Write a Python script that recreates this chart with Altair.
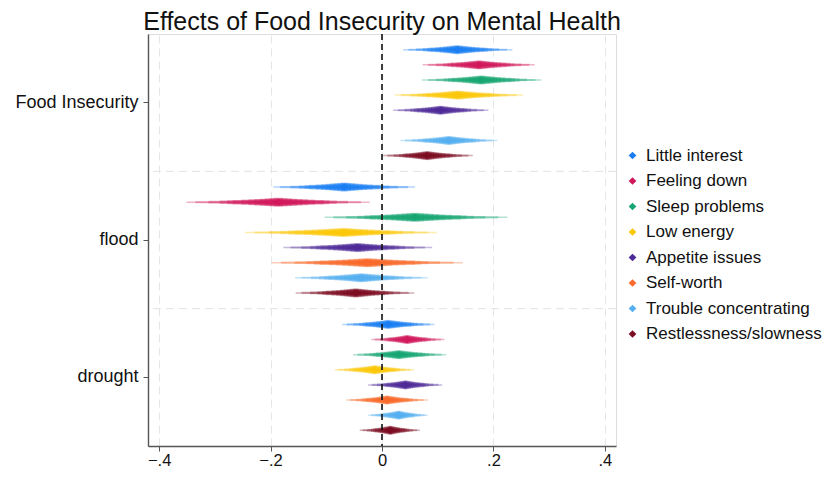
import altair as alt
import pandas as pd
from statistics import NormalDist

groups = ["Food Insecurity", "flood", "drought"]
series = ["Little interest", "Feeling down", "Sleep problems", "Low energy",
          "Appetite issues", "Self-worth", "Trouble concentrating", "Restlessness/slowness"]
colors = ["#1a7ef2", "#d1185a", "#17a673", "#fbc70a",
          "#4e2a98", "#fa6a2c", "#55aff0", "#7b0c22"]

# point estimates and outer (99%) interval bounds
fi_est = [0.135, 0.174, 0.178, 0.136, 0.105, None, 0.120, 0.081]
fi_lo = [0.038, 0.073, 0.072, 0.023, 0.020, None, 0.033, 0.002]
fi_hi = [0.234, 0.274, 0.286, 0.253, 0.191, None, 0.207, 0.163]

fl_est = [-0.068, -0.186, 0.059, -0.069, -0.044, -0.026, -0.037, -0.047]
fl_lo = [-0.195, -0.351, -0.103, -0.246, -0.177, -0.198, -0.156, -0.155]
fl_hi = [0.059, -0.022, 0.225, 0.098, 0.090, 0.145, 0.082, 0.058]

dr_est = [0.011, 0.045, 0.030, -0.013, 0.042, 0.009, 0.030, 0.015]
dr_lo = [-0.071, -0.019, -0.052, -0.085, -0.025, -0.064, -0.025, -0.040]
dr_hi = [0.094, 0.112, 0.115, 0.058, 0.108, 0.082, 0.082, 0.068]

x_ticks = [-0.4, -0.2, 0, 0.2, 0.4]
levels = [0.99, 0.98, 0.95, 0.9, 0.85, 0.8, 0.7, 0.6, 0.5, 0.4, 0.3, 0.2, 0.1]

table = {"Food Insecurity": (fi_est, fi_lo, fi_hi),
         "flood": (fl_est, fl_lo, fl_hi),
         "drought": (dr_est, dr_lo, dr_hi)}

nd = NormalDist()
z_out = nd.inv_cdf(0.5 + levels[0] / 2)
pts, rows = [], []
for g, (est, lo, hi) in table.items():
    for s, e, l, h in zip(series, est, lo, hi):
        if e is None:
            continue
        pts.append(dict(group=g, series=s, est=e))
for i, p in enumerate(levels):
    f = nd.inv_cdf(0.5 + p / 2) / z_out
    w = 1.5 + 7.5 * i / (len(levels) - 1)
    for g, (est, lo, hi) in table.items():
        for s, c, e, l, h in zip(series, colors, est, lo, hi):
            if e is None:
                continue
            rows.append(dict(group=g, ser=s, col=c, lo=e - (e - l) * f,
                             hi=e + (h - e) * f, w=w, op=0.33))
pts_df = pd.DataFrame(pts)
rows_df = pd.DataFrame(rows)
grid_df = pd.DataFrame({"group": groups[1:]})

FONT = "Liberation Sans"
y_scale = alt.Scale(type="band", domain=groups, paddingInner=0, paddingOuter=0)
y_axis = alt.Axis(title=None, labelFontSize=18, labelFont=FONT, labelColor="#111",
                  tickSize=5, tickColor="#555", domainColor="#555", domainWidth=1.4,
                  labelPadding=5, grid=False)
x_scale = alt.Scale(domain=[-0.42, 0.42], nice=False, zero=False)
x_axis = alt.Axis(title=None, values=x_ticks, labelFontSize=16.5, labelFont=FONT,
                  labelColor="#111",
                  labelExpr="datum.value == 0 ? '0' : replace(format(datum.value, '.1f'), '0.', '.')",
                  tickSize=5, tickColor="#555", domainColor="#555", domainWidth=1.4,
                  labelPadding=1, grid=True, gridDash=[8, 5], gridColor="#e6e6e6")
yoff = alt.YOffset("series:N", scale=alt.Scale(domain=series, paddingInner=0, paddingOuter=0.54))
yoff2 = alt.YOffset("ser:N", scale=alt.Scale(domain=series, paddingInner=0, paddingOuter=0.54))

hgrid = alt.Chart(grid_df).mark_rule(color="#e3e3e3", strokeDash=[8, 5], strokeWidth=1).encode(
    y=alt.Y("group:N", bandPosition=0, scale=y_scale, axis=y_axis)
)

spindles = alt.Chart(rows_df).mark_rule().encode(
    x=alt.X("lo:Q", scale=x_scale, axis=x_axis),
    x2="hi:Q",
    y=alt.Y("group:N", scale=y_scale, axis=y_axis),
    yOffset=yoff2,
    stroke=alt.Stroke("col:N", scale=None),
    strokeWidth=alt.StrokeWidth("w:Q", scale=None),
    opacity=alt.Opacity("op:Q", scale=None),
)

zero = alt.Chart(pd.DataFrame({"v": [0]})).mark_rule(
    color="#111", strokeDash=[6, 4], strokeWidth=1.6
).encode(x=alt.X("v:Q", scale=x_scale, axis=x_axis))

points = alt.Chart(pts_df).mark_point(shape="diamond", filled=True, size=55, opacity=1).encode(
    x=alt.X("est:Q", scale=x_scale, axis=x_axis),
    y=alt.Y("group:N", scale=y_scale, axis=y_axis),
    yOffset=yoff,
    color=alt.Color("series:N", scale=alt.Scale(domain=series, range=colors),
                    legend=alt.Legend(title=None, orient="none", legendX=476, legendY=113,
                                      labelFontSize=17, labelFont=FONT, labelColor="#111",
                                      labelLimit=0,
                                      symbolType="diamond", symbolSize=60, rowPadding=7.5,
                                      labelOffset=5, padding=0)),
)

chart = alt.layer(hgrid, spindles, zero, points).properties(
    width=468, height=412,
    title=alt.TitleParams("Effects of Food Insecurity on Mental Health", fontSize=25,
                          font=FONT, fontWeight="normal", color="#111", anchor="middle",
                          offset=0, dy=2),
    autosize=alt.AutoSizeParams(type="none"),
    padding={"left": 140, "top": 26, "right": 211, "bottom": 24},
).configure_view(stroke=None).configure(background="white")

chart.save("out.html", embed_options={"renderer": "svg", "actions": False})
